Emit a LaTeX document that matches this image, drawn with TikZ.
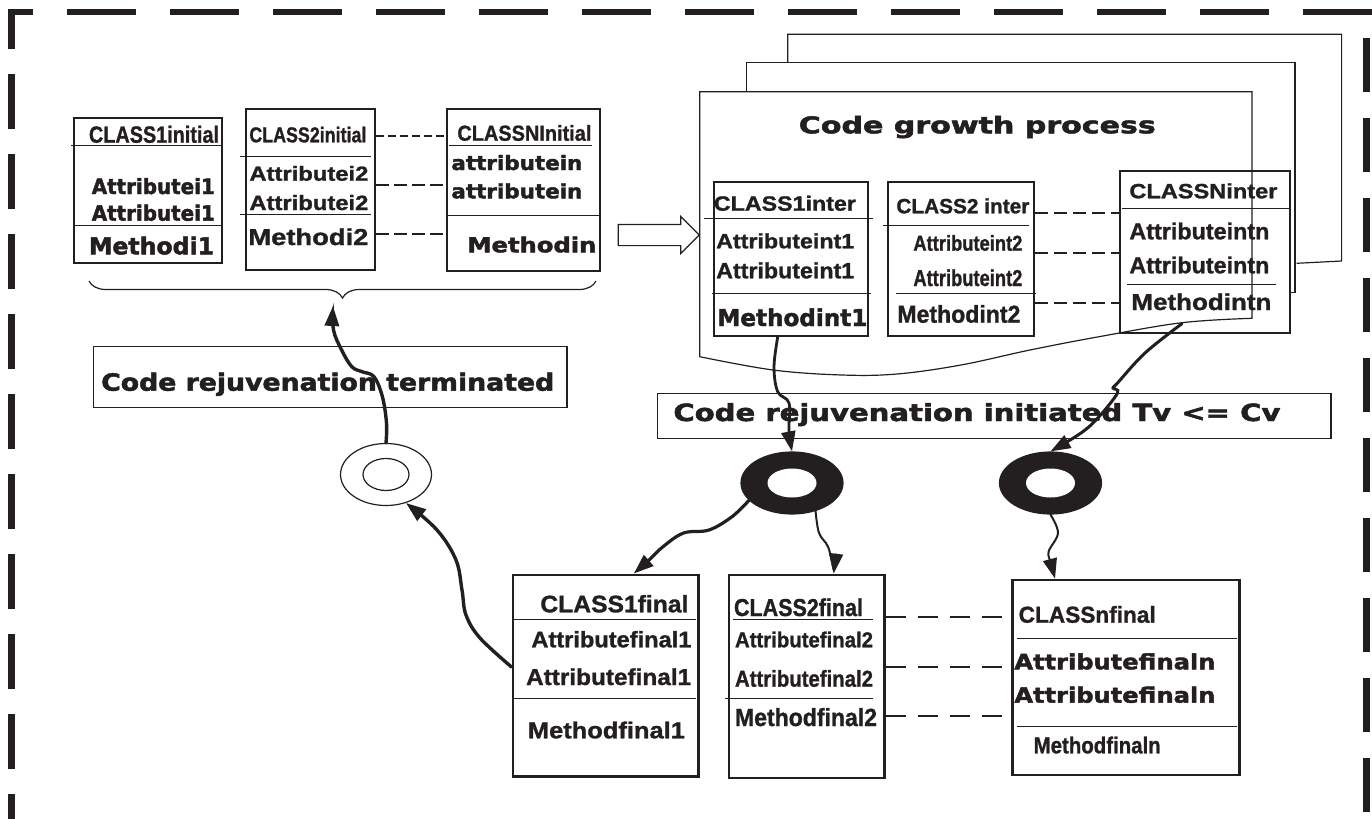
\documentclass[tikz,border=0pt]{standalone}
\usepackage{fontspec}
\usepackage{graphicx}
\setmainfont{Liberation Sans}[BoldFeatures={FakeBold=1.2}]
\newfontfamily\heavyfont{DejaVu Sans}[BoldFeatures={FakeBold=2}]
\usetikzlibrary{fit,shapes.geometric,shapes.arrows,arrows.meta,decorations.pathreplacing}
\definecolor{ink}{RGB}{35,31,32}
\newlength\pxu
\setlength\pxu{0.5pt}
\newcommand\fitbox[3]{\resizebox{#1\pxu}{#2\pxu}{#3}}
\tikzset{
  dashframe/.style={draw=ink, line width=3.25pt},
  classbox/.style={draw=ink, inner sep=0pt, line width=#1},
  classbox/.default=0.6pt,
  divider/.style={draw=ink, line width=0.5pt},
  txt/.style={inner sep=0pt, anchor=base west, text=ink, font=\bfseries},
  heavytxt/.style={txt, font=\heavyfont\bfseries},
  link/.style={draw=ink, line width=1pt, dash pattern=#1},
  layer/.style={draw=ink, line width=0.6pt},
  ring/.style={ellipse, draw=ink, line width=0.6pt, inner sep=0pt},
  flow/.style={draw=ink, line width=#1, line cap=round, -{Triangle[length=10pt,width=7pt]}},
}
\begin{document}
\begin{tikzpicture}[x=0.5pt, y=-0.5pt]
\useasboundingbox (0,0) rectangle (1372,819);

% dashed frame round the figure
\draw[dashframe, dash pattern=on 27.5pt off 12.5pt, dash phase=7.5pt] (11.5,9) -- (11.5,830);
\draw[dashframe, dash pattern=on 34.5pt off 17pt, dash phase=22pt] (8,12) -- (1372,12);
\draw[dashframe, dash pattern=on 27pt off 13pt, dash phase=27pt] (1366.5,12) -- (1366.5,830);

% initial classes
\node[classbox, fit={(74,118) (222,263)}] (c1i) {};
\draw[divider] (71,145) -- (222,145);
\draw[divider] (74,225) -- (222,225);
\node[txt] (c1i-t) at (88.6,142.7) {\fitbox{130}{17}{CLASS1initial}};
\node[heavytxt] (c1i-a1) at (91.4,194) {\fitbox{123}{16}{Attributei1}};
\node[heavytxt] (c1i-a2) at (91.4,220.7) {\fitbox{123}{16}{Attributei1}};
\node[heavytxt] (c1i-m) at (88.6,254.3) {\fitbox{125}{17.6}{Methodi1}};

\node[classbox=1.4pt, fit={(246,109) (375,270)}] (c2i) {};
\draw[divider] (240,156) -- (371,156);
\draw[divider] (240,214) -- (371,214);
\node[txt] (c2i-t) at (249,142.3) {\fitbox{117}{15.6}{CLASS2initial}};
\node[txt] (c2i-a1) at (249,180.7) {\fitbox{119}{14.7}{Attributei2}};
\node[txt] (c2i-a2) at (249,210) {\fitbox{119}{15}{Attributei2}};
\node[txt] (c2i-m) at (248,245) {\fitbox{120}{16.7}{Methodi2}};

\node[classbox=1.4pt, fit={(447,109) (600,271)}] (cNi) {};
\draw[divider] (449,145) -- (592,145);
\draw[divider] (447,215) -- (600,215);
\node[txt] (cNi-t) at (457,140.7) {\fitbox{134}{15.7}{CLASSNInitial}};
\node[heavytxt] (cNi-a1) at (451,170) {\fitbox{131}{15}{attributein}};
\node[heavytxt] (cNi-a2) at (451,198.3) {\fitbox{131}{15}{attributein}};
\node[heavytxt] (cNi-m) at (467,252.3) {\fitbox{129}{15.7}{Methodin}};

\draw[link={on 4pt off 2pt}] (c2i.east |- 0,136) -- (cNi.west |- 0,136);
\draw[link={on 6.5pt off 2.5pt}] (c2i.east |- 0,185) -- (cNi.west |- 0,185);
\draw[link={on 6.5pt off 2.5pt}] (c2i.east |- 0,234) -- (cNi.west |- 0,234);

\coordinate (brL) at (89,281);
\coordinate (brR) at (596,281);
\draw[ink, line width=0.6pt, decorate, decoration={brace, mirror, amplitude=8.5pt}] (brL) -- (brR);
\coordinate (brtip) at (333,306);

% growth process
\draw[layer] (1296.6,263.3) -- (1341.6,261) -- (1341.6,34.3) -- (787.8,34.3) -- (787.8,62.7);
\draw[layer] (1290,292.3) -- (1295,292.3) -- (1295,62.7) -- (746.5,62.7) -- (746.5,91.7);
\draw[layer] plot[smooth, tension=0.6] coordinates {(699.7,356.7) (773,370) (842,375) (897,374) (961,365) (1030,350) (1099,336.7) (1182,322.7) (1252,318.3)} -- (1252,91.7) -- (699.7,91.7) -- cycle;
\node[heavytxt] (grow-t) at (798.4,133.3) {\fitbox{357}{17.5}{Code growth process}};
\node[single arrow, draw=ink, line width=0.6pt, inner xsep=0pt, inner ysep=5pt, minimum height=40.5pt, single arrow head extend=4pt] (push) at (653.5,235) {};

\node[classbox=1pt, fit={(713.5,182.3) (868,335.7)}] (c1n) {};
\draw[divider] (704,218.3) -- (873,218.3);
\draw[divider] (712,293.3) -- (871,293.3);
\node[txt] (c1n-t) at (713.5,210.7) {\fitbox{142}{15}{CLASS1inter}};
\node[txt] (c1n-a1) at (715.8,248.3) {\fitbox{138}{15}{Attributeint1}};
\node[txt] (c1n-a2) at (715.8,278.3) {\fitbox{138}{16}{Attributeint1}};
\node[heavytxt] (c1n-m) at (717,326) {\fitbox{150}{17.7}{Methodint1}};

\node[classbox=1pt, fit={(888.4,182.3) (1034,335.7)}] (c2n) {};
\draw[divider] (883,225.7) -- (1029,225.7);
\draw[divider] (896,293.3) -- (1036,293.3);
\node[txt] (c2n-t) at (896,213.3) {\fitbox{133}{15}{CLASS2 inter}};
\node[txt] (c2n-a1) at (913,250.7) {\fitbox{109}{15.7}{Attributeint2}};
\node[txt] (c2n-a2) at (913,286) {\fitbox{109}{16.7}{Attributeint2}};
\node[txt] (c2n-m) at (897,322.7) {\fitbox{123}{17.7}{Methodint2}};

\node[classbox=1pt, fit={(1119.8,170.7) (1290,332.7)}] (cNn) {};
\draw[divider] (1122,208.3) -- (1291,208.3);
\draw[divider] (1127,284) -- (1276,284);
\node[txt] (cNn-t) at (1129,198.3) {\fitbox{148}{15}{CLASSNinter}};
\node[txt] (cNn-a1) at (1129,239.3) {\fitbox{140}{16.7}{Attributeintn}};
\node[txt] (cNn-a2) at (1129,273.3) {\fitbox{140}{16.7}{Attributeintn}};
\node[txt] (cNn-m) at (1131,310) {\fitbox{140}{16.7}{Methodintn}};

\draw[link={on 6.5pt off 3pt}] (c2n.east |- 0,213) -- (cNn.west |- 0,213);
\draw[link={on 6.5pt off 3pt}] (c2n.east |- 0,253) -- (cNn.west |- 0,253);
\draw[link={on 6.5pt off 3pt}] (c2n.east |- 0,303) -- (cNn.west |- 0,303);

% rejuvenation labels and rings
\node[classbox, fit={(93.5,346.7) (567,407.3)}] (stop) {};
\node[heavytxt] (stop-t) at (100.8,390.7) {\fitbox{453}{18}{Code rejuvenation terminated}};
\node[classbox, fit={(657.4,393.3) (1331,438.7)}] (start) {};
\node[heavytxt] (start-t) at (673,421) {\fitbox{607}{18}{Code rejuvenation initiated Tv <= Cv}};

\node[ring, fill=white, minimum width=45.5pt, minimum height=31pt] (r1) at (386,474.5) {};
\node[ring, minimum width=23pt, minimum height=16pt] (r1i) at (r1) {};
\node[ring, fill=ink, minimum width=51pt, minimum height=31pt] (r2) at (792,483) {};
\node[ring, fill=white, draw=none, minimum width=24.5pt, minimum height=14.5pt] (r2i) at (r2) {};
\node[ring, fill=ink, minimum width=51pt, minimum height=31pt] (r3) at (1050.5,483) {};
\node[ring, fill=white, draw=none, minimum width=24.5pt, minimum height=14.5pt] (r3i) at (r3) {};

% final classes
\node[classbox=1.4pt, fit={(512.9,575) (698.6,776.7)}] (c1f) {};
\draw[divider] (514,619.3) -- (696,619.3);
\draw[divider] (514,698.3) -- (696,698.3);
\node[txt] (c1f-t) at (540,612.3) {\fitbox{148}{17.3}{CLASS1final}};
\node[txt] (c1f-a1) at (531,647.3) {\fitbox{160}{16.3}{Attributefinal1}};
\node[txt] (c1f-a2) at (525.7,685) {\fitbox{165}{16.7}{Attributefinal1}};
\node[txt] (c1f-m) at (527.5,738.3) {\fitbox{157}{16.7}{Methodfinal1}};

\node[classbox=1.4pt, fit={(729,575) (884.3,778)}] (c2f) {};
\draw[divider] (732.5,619.3) -- (873,619.3);
\draw[divider] (724.6,698.3) -- (873,698.3);
\node[txt] (c2f-t) at (733.6,616) {\fitbox{129}{17.7}{CLASS2final}};
\node[txt] (c2f-a1) at (734.6,647.3) {\fitbox{138}{15.7}{Attributefinal2}};
\node[txt] (c2f-a2) at (734.6,686.7) {\fitbox{138}{16.7}{Attributefinal2}};
\node[txt] (c2f-m) at (734.6,726) {\fitbox{142}{18}{Methodfinal2}};

\node[classbox=1.4pt, fit={(1012.7,580) (1239.3,775)}] (cnf) {};
\draw[divider] (1016.7,638.3) -- (1236.7,638.3);
\draw[divider] (1016.7,726.7) -- (1236.7,726.7);
\node[txt] (cnf-t) at (1018.3,622.7) {\fitbox{137}{16.7}{CLASSnfinal}};
\node[heavytxt] (cnf-a1) at (1014,669.3) {\fitbox{201}{16}{Attributefinaln}};
\node[heavytxt] (cnf-a2) at (1014,702.7) {\fitbox{201}{16}{Attributefinaln}};
\node[txt] (cnf-m) at (1033.3,753.3) {\fitbox{127}{16.7}{Methodfinaln}};

\draw[link={on 10pt off 6pt}] (c2f.east |- 0,617.3) -- (cnf.west |- 0,617.3);
\draw[link={on 10pt off 6pt}] (c2f.east |- 0,667.3) -- (cnf.west |- 0,667.3);
\draw[link={on 10pt off 6pt}] (c2f.east |- 0,716) -- (cnf.west |- 0,716);

% wavy flows
\draw[flow=1.7pt] plot[smooth, tension=0.6] coordinates {(r1.north) (386.5,423) (382.4,396.7) (374,376.7) (362,371.7) (351.8,366.7) (341.6,350) (333.5,330) (brtip)};
\draw[flow=1.7pt] plot[smooth, tension=0.6] coordinates {(c1f.west |- 0,667) (480,638) (466,615) (462,590) (456,560) (437,530) (r1.-55)};
\draw[flow=1.4pt] plot[smooth, tension=0.6] coordinates {([xshift=-6.5pt]c1n.south) (774,367) (777.7,391.7) (789,403) (789,430) (r2.north)};
\draw[flow=1.5pt] plot[smooth, tension=0.6] coordinates {([xshift=-11.5pt, yshift=5pt]cNn.south) (1145,353) (1117.5,383) (1113,388) (1117.5,393) (1099,416.7) (1081,433) (r3.north)};
\draw[flow=1.6pt] plot[smooth, tension=0.6] coordinates {(r2.202) (732,516.7) (709,530) (683.6,533) (663,546.7) (649,560) ([xshift=14pt]c1f.north)};
\draw[flow=1pt] plot[smooth, tension=0.6] coordinates {(r2.-50) (819,533) (828,546.7) (833,566.7) ([xshift=13.5pt]c2f.north)};
\draw[flow=1pt] plot[smooth, tension=0.6] coordinates {(r3.south) (1058,533) (1048.6,551.7) (1051,563) ([xshift=-35.5pt]cnf.north)};
\end{tikzpicture}
\end{document}
